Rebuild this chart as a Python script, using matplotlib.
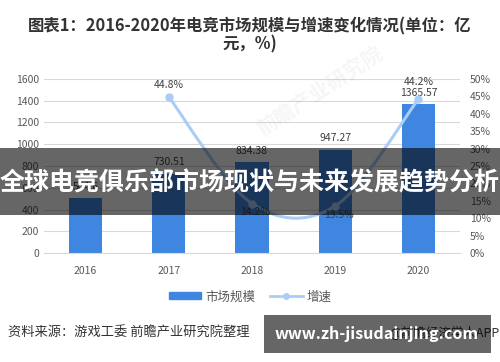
import numpy as np
import matplotlib
matplotlib.use('Agg')
import matplotlib.pyplot as plt
from matplotlib.path import Path
from matplotlib.patches import PathPatch, Rectangle
from matplotlib.lines import Line2D
from matplotlib.ticker import FuncFormatter

plt.rcParams['font.family'] = ['Noto Sans CJK SC', 'DejaVu Sans']

# 数据
years = ['2016', '2017', '2018', '2019', '2020']
market = [504.6, 730.51, 834.38, 947.27, 1365.57]
market_labels = ['504.6', '730.51', '834.38', '947.27', '1365.57']
growth_years_idx = [1, 2, 3, 4]
growth = [44.8, 14.2, 13.5, 44.2]
growth_labels = ['44.8%', '14.2%', '13.5%', '44.2%']

BAR = '#3f86e0'
LINE = '#aacdf7'
TXT = '#595959'


def smooth_path(xs, ys):
    """Excel风格平滑线 (Catmull-Rom -> Bezier)"""
    xs = np.asarray(xs, float)
    ys = np.asarray(ys, float)
    n = len(xs)
    verts = [(xs[0], ys[0])]
    codes = [Path.MOVETO]
    for i in range(n - 1):
        p0 = (xs[max(i - 1, 0)], ys[max(i - 1, 0)])
        p1 = (xs[i], ys[i])
        p2 = (xs[i + 1], ys[i + 1])
        p3 = (xs[min(i + 2, n - 1)], ys[min(i + 2, n - 1)])
        c1 = (p1[0] + (p2[0] - p0[0]) / 6, p1[1] + (p2[1] - p0[1]) / 6)
        c2 = (p2[0] - (p3[0] - p1[0]) / 6, p2[1] - (p3[1] - p1[1]) / 6)
        verts += [c1, c2, p2]
        codes += [Path.CURVE4] * 3
    return Path(verts, codes)


fig = plt.figure(figsize=(5, 3.62), dpi=100)
ax = fig.add_axes([0.088, 0.301, 0.832, 0.481])
x = np.arange(len(years))

ax.bar(x, market, width=0.4, color=BAR, zorder=2)
for xi, v, s in zip(x, market, market_labels):
    ax.text(xi, v + 60, s, ha='center', va='bottom', fontsize=7.5,
            color='#404040')

ax.set_xlim(-0.5, 4.5)
ax.set_ylim(0, 1600)
ax.set_yticks(range(0, 1601, 200))
ax.set_xticks(x)
ax.set_xticklabels(years)
ax.grid(axis='y', color='#d9d9d9', lw=0.8, zorder=0)
for sp in ['top', 'left', 'right']:
    ax.spines[sp].set_visible(False)
ax.spines['bottom'].set_color('#d9d9d9')
ax.tick_params(length=0, labelsize=7.5, colors=TXT)
ax.tick_params(axis='x', pad=9)

ax2 = ax.twinx()
ax2.set_ylim(0, 50)
ax2.set_yticks(range(0, 51, 5))
ax2.yaxis.set_major_formatter(FuncFormatter(lambda v, p: f'{v:.0f}%'))
ax2.tick_params(length=0, labelsize=7.5, colors=TXT, pad=7)
for sp in ax2.spines.values():
    sp.set_visible(False)

ax2.add_patch(PathPatch(smooth_path(growth_years_idx, growth),
                        facecolor='none', edgecolor=LINE, lw=2.2,
                        zorder=3))
ax2.plot(growth_years_idx, growth, 'o', color=LINE, ms=5, zorder=4)
offs = [3.5, -2.5, -2.5, 4.8]
for xi, v, s, o in zip(growth_years_idx, growth, growth_labels, offs):
    ax2.text(xi + (0.04 if o < 0 else 0), v + o, s, ha='center',
             va='center', fontsize=7.5, color='#404040')

# 水印
fig.text(0.64, 0.75, '前瞻产业研究院', rotation=33, fontsize=15,
         color='#000000', alpha=0.04, ha='center', va='center',
         fontweight='bold')

# 标题
fig.text(0.5, 0.928, '图表1：2016-2020年电竞市场规模与增速变化情况(单位：亿',
         ha='center', va='center', fontsize=11.8, fontweight='bold',
         color='#333333')
fig.text(0.5, 0.878, '元，%)', ha='center', va='center', fontsize=11.8,
         fontweight='bold', color='#333333')

# 图例
handles = [Rectangle((0, 0), 1, 1, color=BAR),
           Line2D([], [], color=LINE, lw=2, marker='o', ms=4)]
fig.legend(handles, ['市场规模', '增速'], loc='center',
           bbox_to_anchor=(0.5, 0.18), ncol=2, frameon=False,
           fontsize=9, handlelength=2.6, handleheight=0.5,
           columnspacing=1.2, handletextpad=0.3, labelcolor=TXT)

# 来源
fig.text(0.016, 0.08, '资料来源：游戏工委 前瞻产业研究院整理', ha='left',
         va='center', fontsize=9.5, color='#333333')
fig.text(1.0, 0.08, '@前瞻经济学人APP', ha='right', va='center',
         fontsize=9, color='#333333')

# 覆盖横幅
fig.patches.append(Rectangle((0, 0.406), 1, 0.185, transform=fig.transFigure,
                             facecolor='black', alpha=0.6, zorder=5,
                             edgecolor='none'))
fig.text(0.5, 0.494, '全球电竞俱乐部市场现状与未来发展趋势分析', ha='center',
         va='center', fontsize=18, fontweight='bold', color='white',
         zorder=6)
fig.patches.append(Rectangle((0.528, 0.025), 0.454, 0.105,
                             transform=fig.transFigure, facecolor='black',
                             alpha=0.6, zorder=5, edgecolor='none'))
fig.text(0.754, 0.077, 'www.zh-jisudainjing.com', ha='center', va='center',
         fontsize=11.6, fontweight='bold', color='white', zorder=6)

fig.savefig('out.png', dpi=100)
